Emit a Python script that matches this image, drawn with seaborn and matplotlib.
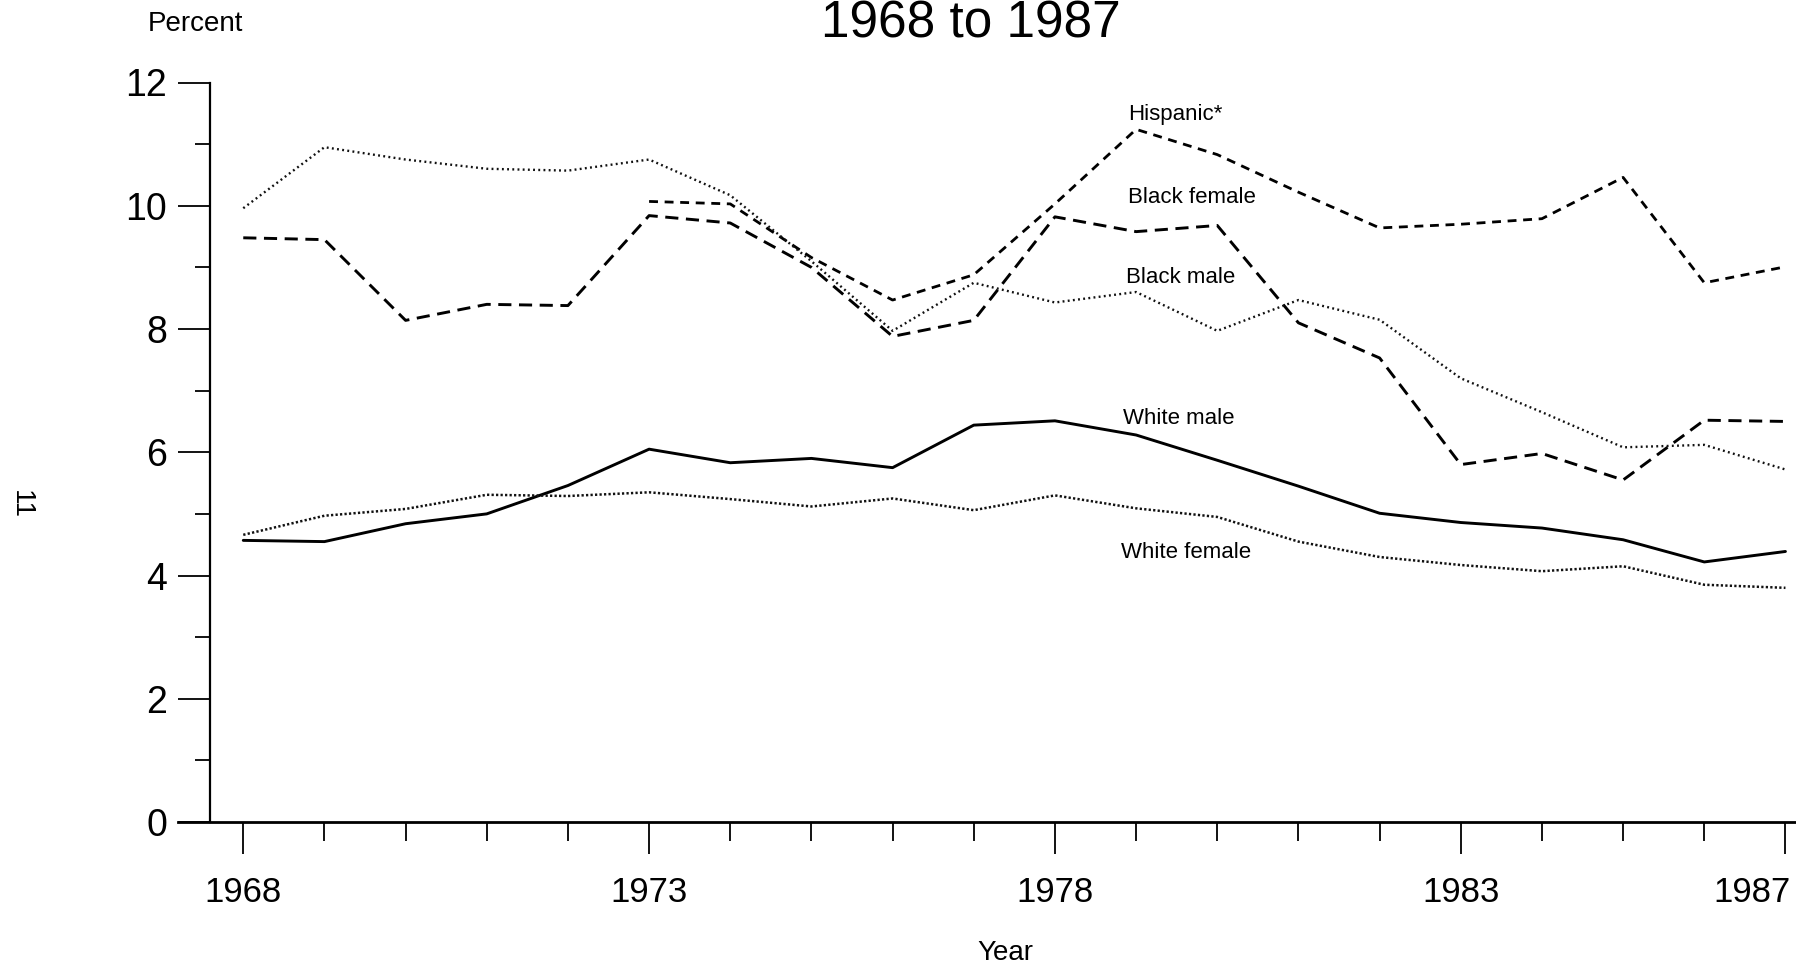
import matplotlib
matplotlib.use("Agg")
import matplotlib.pyplot as plt
import matplotlib.transforms as mtransforms
from matplotlib.ticker import FixedLocator
import pandas as pd
import seaborn as sns

# ---------------- data ----------------
years = list(range(1968, 1988))
hispanic_years = list(range(1973, 1988))
hispanic = [10.07, 10.03, 9.16, 8.47, 8.88, 10.03, 11.24, 10.83, 10.22, 9.64,
            9.70, 9.79, 10.46, 8.75, 9.01]
black_female = [9.48, 9.45, 8.14, 8.40, 8.38, 9.84, 9.72, 9.00, 7.88, 8.14,
                9.82, 9.58, 9.68, 8.10, 7.53, 5.80, 5.98, 5.55, 6.52, 6.50]
black_male = [9.96, 10.95, 10.75, 10.60, 10.57, 10.75, 10.17, 9.10, 7.97, 8.75,
              8.43, 8.60, 7.97, 8.47, 8.15, 7.20, 6.65, 6.08, 6.12, 5.72]
white_male = [4.57, 4.55, 4.84, 5.00, 5.46, 6.05, 5.83, 5.90, 5.75, 6.44,
              6.51, 6.28, 5.87, 5.45, 5.01, 4.86, 4.77, 4.58, 4.22, 4.39]
white_female = [4.66, 4.97, 5.08, 5.31, 5.29, 5.35, 5.24, 5.12, 5.25, 5.06,
                5.30, 5.09, 4.95, 4.55, 4.30, 4.17, 4.07, 4.15, 3.85, 3.80]

group_names = ["Hispanic*", "Black female", "Black male", "White male", "White female"]
y_ticks = [0, 2, 4, 6, 8, 10, 12]
y_minor = [1, 3, 5, 7, 9, 11]
x_major = [1968, 1973, 1978, 1983, 1987]
x_tick_labels = ["1968", "1973", "1978", "1983", "1987"]
title_text = "1968 to 1987"

# ---------------- build frame ----------------
rows = []
for g, ys, vals in [
    (group_names[0], hispanic_years, hispanic),
    (group_names[1], years, black_female),
    (group_names[2], years, black_male),
    (group_names[3], years, white_male),
    (group_names[4], years, white_female),
]:
    for y, v in zip(ys, vals):
        rows.append({"Year": y, "Percent": v, "Group": g})
df = pd.DataFrame(rows)

sns.set_style("white")
plt.rcParams["font.family"] = ["Liberation Sans", "DejaVu Sans"]
plt.rcParams["text.color"] = "black"
plt.rcParams["axes.edgecolor"] = "black"
plt.rcParams["xtick.color"] = "black"
plt.rcParams["ytick.color"] = "black"
plt.rcParams["axes.labelcolor"] = "black"

W, H = 1796, 967
fig = plt.figure(figsize=(W / 100, H / 100), dpi=100)
ax_left, ax_right, ax_top, ax_bottom = 178, 1796, 82.5, 822
ax = fig.add_axes([ax_left / W, 1 - ax_bottom / H, (ax_right - ax_left) / W,
                   (ax_bottom - ax_top) / H])

palette = {g: "black" for g in group_names}
dashes = {
    "Hispanic*": (3.2, 2.4),
    "Black female": (4.5, 2.6),
    "Black male": (0.8, 1.4),
    "White male": "",
    "White female": (0.9, 0.9),
}
sns.lineplot(data=df, x="Year", y="Percent", hue="Group", style="Group",
             hue_order=group_names, style_order=group_names,
             palette=palette, dashes=dashes, legend=False, ax=ax,
             estimator=None, sort=True)
widths = [2.0, 2.1, 1.7, 2.1, 1.8]
cols = ["black", "black", "#111111", "black", "#111111"]
for ln, w, c in zip(ax.lines, widths, cols):
    ln.set_linewidth(w)
    ln.set_color(c)

ax.set_xlim(1967.196, 1987.13)
ax.set_ylim(0, 12)

for s in ["top", "right"]:
    ax.spines[s].set_visible(False)
ax.spines["left"].set_position(("data", 1967.59))
ax.spines["left"].set_bounds(0, 12)
ax.spines["left"].set_linewidth(1.6)
ax.spines["bottom"].set_linewidth(2.0)

ax.yaxis.set_major_locator(FixedLocator(y_ticks))
ax.yaxis.set_minor_locator(FixedLocator(y_minor))
ax.set_yticklabels([str(t) for t in y_ticks])
ax.xaxis.set_major_locator(FixedLocator(x_major))
ax.xaxis.set_minor_locator(FixedLocator(years))
ax.set_xticklabels(x_tick_labels)

ax.tick_params(axis="y", which="major", direction="out", length=23, width=1.3,
               labelsize=27, pad=8, left=True)
ax.tick_params(axis="y", which="minor", direction="out", length=11, width=1.3, left=True)
ax.tick_params(axis="x", which="major", direction="out", length=23, width=1.3,
               labelsize=25, pad=16, bottom=True)
ax.tick_params(axis="x", which="minor", direction="out", length=14, width=1.3, bottom=True)
ax.set_xlabel("")
ax.set_ylabel("")

# shift the last year label left so it stays inside the figure edge
last = ax.get_xticklabels()[-1]
last.set_transform(last.get_transform() +
                   mtransforms.ScaledTranslation(-0.33, 0, fig.dpi_scale_trans))

# series labels
label_pos = {
    "Hispanic*": (1978.90, 11.48),
    "Black female": (1978.90, 10.14),
    "Black male": (1978.87, 8.84),
    "White male": (1978.84, 6.54),
    "White female": (1978.81, 4.38),
}
for g in group_names:
    x, y = label_pos[g]
    ax.text(x, y, g, fontsize=16, ha="left", va="center", color="black")

fig.text(971 / W, 1 - 37 / H, title_text, fontsize=37, ha="center", va="baseline")
fig.text(195 / W, 1 - 24 / H, "Percent", fontsize=20, ha="center", va="center")
fig.text(1005 / W, 1 - 953 / H, "Year", fontsize=20, ha="center", va="center")
fig.text(21 / W, 1 - 504 / H, "11", fontsize=20, ha="center", va="center", rotation=270)

fig.savefig("out.png", dpi=100)
